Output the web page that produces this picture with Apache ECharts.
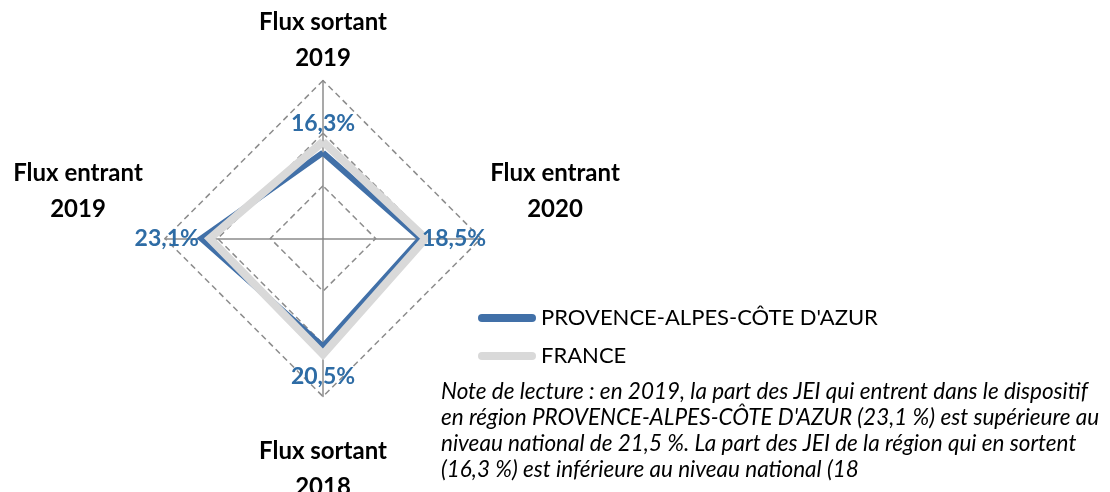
<!DOCTYPE html>
<html>
<head>
<meta charset="utf-8">
<script src="https://cdn.jsdelivr.net/npm/echarts@6/dist/echarts.min.js"></script>
<style>
  html, body { margin: 0; padding: 0; background: #fff; }
  #chart { width: 1110px; height: 492px; }
</style>
</head>
<body>
<div id="chart"></div>
<script>
// ordre ECharts : haut, gauche, bas, droite (sens anti-horaire)
const indicators = ['Flux sortant\n2019', 'Flux entrant\n2019', 'Flux sortant\n2018', 'Flux entrant\n2020']
const pacaValues = [16.3, 23.1, 20.5, 18.5]
const franceValues = [18.4, 21.5, 22.0, 19.5]
const seriesNames = ["PROVENCE-ALPES-CÔTE D'AZUR", 'FRANCE']
const noteLines = [
  'Note de lecture : en 2019, la part des JEI qui entrent dans le dispositif',
  "en région PROVENCE-ALPES-CÔTE D'AZUR (23,1 %) est supérieure au",
  'niveau national de 21,5 %. La part des JEI de la région qui en sortent',
  '(16,3 %) est inférieure au niveau national (18'
]

const labelPos = ['top', 'left', 'bottom', 'right']
const labelDist = [17, 2, 18, 1]

let myChart = echarts.init(document.getElementById('chart'))

// libellés des axes : un style par position
function axisNameFmt(value) {
  const i = indicators.indexOf(value)
  const parts = value.split('\n')
  if (i === 0) return parts.map(p => '{t|' + p + '}').join('\n')
  if (i === 2) return '{bs| }\n' + parts.map(p => '{t|' + p + '}').join('\n')
  if (i === 1) return parts.map(p => '{l|' + p + '}').join('\n') + '\n{vs| }'
  return parts.map(p => '{r|' + p + '}').join('\n') + '\n{vs| }'
}

// séries invisibles qui portent les étiquettes de valeur
let labelSeries = pacaValues.map(function (v, k) {
  return {
    type: 'radar',
    name: 'lbl' + k,
    silent: true,
    symbol: 'circle',
    symbolSize: 1,
    itemStyle: { color: 'rgba(0,0,0,0)' },
    lineStyle: { width: 0, opacity: 0 },
    z: 5,
    label: {
      show: true,
      position: labelPos[k],
      distance: labelDist[k],
      fontFamily: 'Lato',
      fontWeight: 'bold',
      fontSize: 23,
      color: '#2E6CA5',
      formatter: function (p) {
        return p.value === pacaValues[k] ? String(p.value).replace('.', ',') + '%' : ''
      }
    },
    data: [{ value: pacaValues, name: 'lbl' + k }]
  }
})

const nameStyle = { fontFamily: 'Lato', fontWeight: 'bold', fontSize: 24, lineHeight: 36, align: 'center', color: '#000' }

let option = {
  animation: false,
  title: {
    text: noteLines.join('\n'),
    left: 441,
    top: 379,
    padding: 0,
    textStyle: {
      fontFamily: 'Lato',
      fontStyle: 'italic',
      fontWeight: 'normal',
      fontSize: 22.5,
      lineHeight: 26,
      color: '#000'
    }
  },
  legend: {
    data: seriesNames,
    orient: 'vertical',
    left: 478,
    top: 305,
    padding: 0,
    itemWidth: 58,
    itemHeight: 9,
    itemGap: 12,
    icon: 'path://M4,0 H54 A4,4 0 0 1 54,8 H4 A4,4 0 0 1 4,0 Z',
    textStyle: { fontFamily: 'Lato', fontSize: 22, lineHeight: 26, color: '#000' }
  },
  radar: {
    center: [323, 238.5],
    radius: 158,
    shape: 'polygon',
    splitNumber: 3,
    startAngle: 90,
    nameGap: 4,
    indicator: indicators.map(n => ({ name: n, min: 0, max: 30 })),
    axisName: {
      formatter: axisNameFmt,
      color: '#000',
      fontFamily: 'Lato',
      fontWeight: 'bold',
      fontSize: 24,
      rich: {
        t: Object.assign({ width: 170 }, nameStyle),
        l: Object.assign({ width: 166 }, nameStyle),
        r: Object.assign({ width: 140 }, nameStyle),
        vs: { fontSize: 10, lineHeight: 94, height: 94 },
        bs: { fontSize: 10, lineHeight: 33, height: 33 }
      }
    },
    axisLine: { lineStyle: { color: '#8C8C8C', width: 1.5 } },
    splitLine: { lineStyle: { color: '#8C8C8C', width: 1.5, type: [6, 4] } },
    splitArea: { show: false },
    axisTick: { show: false },
    axisLabel: { show: false }
  },
  series: [
    {
      type: 'radar',
      name: seriesNames[0],
      symbol: 'none',
      color: '#4170A8',
      itemStyle: { color: '#4170A8' },
      lineStyle: { color: '#4170A8', width: 6, join: 'miter' },
      z: 2,
      data: [{ value: pacaValues, name: seriesNames[0] }]
    },
    {
      type: 'radar',
      name: seriesNames[1],
      symbol: 'none',
      color: '#D9D9D9',
      itemStyle: { color: '#D9D9D9' },
      lineStyle: { color: '#D9D9D9', width: 8, join: 'miter' },
      z: 3,
      data: [{ value: franceValues, name: seriesNames[1] }]
    }
  ].concat(labelSeries)
}

myChart.setOption(option)
</script>
</body>
</html>
